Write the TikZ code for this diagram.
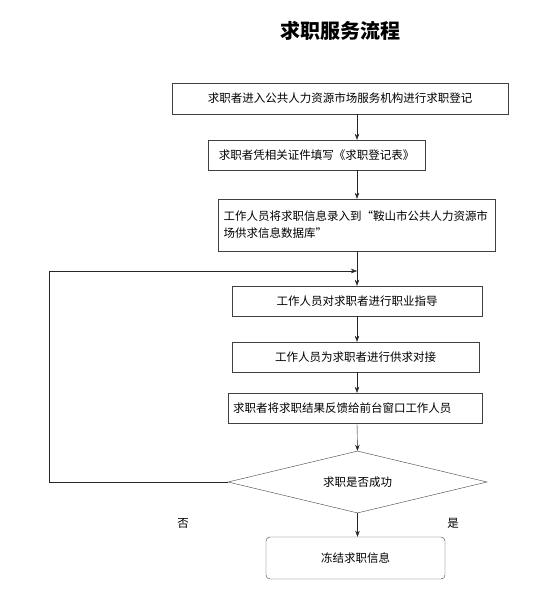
\documentclass[tikz,border=0pt]{standalone}
\usepackage{fontspec}
\newfontfamily\cjk{Noto Sans CJK SC}
\usetikzlibrary{shapes.geometric,arrows.meta}
\begin{document}
\begin{tikzpicture}[x=1pt,y=-1pt,
        stepbox/.style={draw=black!75, font=\cjk\fontsize{11.5}{17}\selectfont, inner sep=2pt},
        decision/.style={draw=black!75, diamond, aspect=4.18, inner sep=0pt, minimum width=259pt, minimum height=62pt, font=\cjk\fontsize{11.5}{15}\selectfont},
        endbox/.style={draw=black!75, rounded corners=4pt, font=\cjk\fontsize{11.5}{15}\selectfont},
        flow/.style={-{Stealth[length=6pt,width=4.5pt]}, black!85},
        lbl/.style={font=\cjk\fontsize{11.5}{15}\selectfont}]
        \useasboundingbox (0,0) rectangle (547,603);

        % Title
        \node[font=\cjk\bfseries\fontsize{20}{24}\selectfont] (title) at (340,31) {求职服务流程};

        % Steps
        \node[stepbox, minimum width=336pt, minimum height=31pt] (b1) at (340,98.5) {求职者进入公共人力资源市场服务机构进行求职登记};
        \node[stepbox, minimum width=217pt, minimum height=30pt] (b2) at (316.5,155) {求职者凭相关证件填写《求职登记表》};
        \node[stepbox, minimum width=277pt, minimum height=52pt, text width=266pt, align=left] (b3) at (356.5,225) {工作人员将求职信息录入到“鞍山市公共人力资源市\\场供求信息数据库”};
        \node[stepbox, minimum width=250pt, minimum height=30pt] (b4) at (357,301) {工作人员对求职者进行职业指导};
        \node[stepbox, minimum width=247pt, minimum height=30pt] (b5) at (355.5,357) {工作人员为求职者进行供求对接};
        \node[stepbox, minimum width=254pt, minimum height=30pt, text width=244pt, align=left] (b6) at (355,408) {求职者将求职结果反馈给前台窗口工作人员};
        \node[decision] (d) at (357.5,482) {求职是否成功};
        \node[endbox, minimum width=179pt, minimum height=42pt] (e) at (355.5,558) {冻结求职信息};

        % Branch labels
        \node[lbl] (no) at (183,523) {否};
        \node[lbl] (yes) at (453,523) {是};

        % Connectors
        \coordinate (axis) at (357,0);
        \coordinate (join) at (357,271);
        \coordinate (back) at (49,271);
        \draw[flow] (b1.south -| axis) -- (b2.north -| axis);
        \draw[flow] (b2.south -| axis) -- (b3.north -| axis);
        \draw[black!85] (b3.south -| axis) -- (join);
        \draw[flow] (join) -- (b4.north -| axis);
        \draw[flow] (b4.south -| axis) -- (b5.north -| axis);
        \draw[flow] (b5.south -| axis) -- (b6.north -| axis);
        \draw[flow] (b6.south -| axis) -- (d.north);
        \draw[flow] (d.south) -- (e.north -| d.south);
        \draw[flow] (d.west) -| (back) -- (join);
    \end{tikzpicture}
\end{document}
